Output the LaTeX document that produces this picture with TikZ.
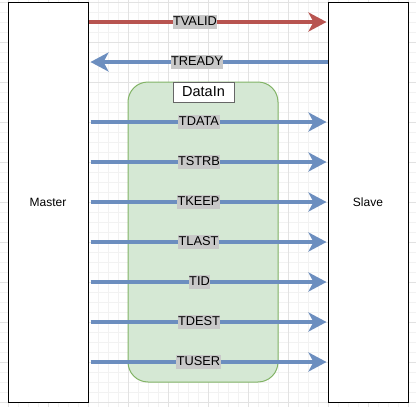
\documentclass[tikz,border=0pt]{standalone}
\usepackage{fontspec}
\setmainfont{Liberation Sans}
\usetikzlibrary{arrows.meta}
\definecolor{gridminor}{RGB}{242,242,242}
\definecolor{gridmajor}{RGB}{226,226,226}
\definecolor{sigred}{RGB}{184,84,80}
\definecolor{sigblue}{RGB}{108,142,191}
\definecolor{grfill}{RGB}{213,232,212}
\definecolor{grline}{RGB}{130,179,102}
\definecolor{lblbg}{RGB}{200,200,200}
\tikzset{
  endbox/.style={draw=black, line width=1pt, fill=white, minimum width=80pt, minimum height=400pt, inner sep=0pt, font=\fontsize{12}{14}\selectfont},
  sig/.style={line width=3.5pt, -{Stealth[length=18pt,width=19pt,inset=5pt]}},
  lbl/.style={fill=lblbg, inner xsep=0.5pt, inner ysep=1pt, font=\fontsize{12.8}{14}\selectfont, text height=9.5pt, text depth=2.5pt},
  groupbox/.style={draw=grline, fill=grfill, line width=1pt, rounded corners=20pt, minimum width=150pt, minimum height=300pt, inner sep=0pt},
  tagbox/.style={draw=black!60, fill=white, line width=1pt, minimum width=61pt, minimum height=20pt, inner sep=0pt, font=\fontsize{14.5}{16}\selectfont}
}
\begin{document}
\begin{tikzpicture}[x=1pt,y=-1pt]
\useasboundingbox (0,0) rectangle (416,407);
\fill[white] (0,0) rectangle (416,407);
% grid
\foreach \x in {-2,8,...,418} \draw[gridminor, line width=1pt] (\x,0) -- (\x,407);
\foreach \y in {2.5,12.5,...,412} \draw[gridminor, line width=1pt] (0,\y) -- (416,\y);
\foreach \x in {8,48,...,418} \draw[gridmajor, line width=1pt] (\x,0) -- (\x,407);
\foreach \y in {2.5,42.5,...,412} \draw[gridmajor, line width=1pt] (0,\y) -- (416,\y);
% group
\node[groupbox] (grp) at (203,232) {};
\node[tagbox] (tag) at (203.5,92) {DataIn};
% end points
\node[endbox] (master) at (48,202) {Master};
\node[endbox] (slave) at (368,202) {Slave};
% signals
\draw[sig, sigred] (master.east |- 0,22) -- ([xshift=-1pt]slave.west |- 0,22);
\draw[sig, sigblue] (slave.west |- 0,62) -- ([xshift=2pt]master.east |- 0,62);
\foreach \yy in {122,162,202,242,282,322,362}
  \draw[sig, sigblue] ([xshift=2pt]master.east |- 0,\yy) -- ([xshift=-1pt]slave.west |- 0,\yy);
% labels
\node[lbl] (lvalid) at (195,21.5) {TVALID};
\node[lbl] (lready) at (197,61.5) {TREADY};
\node[lbl] (ldata) at (199,121.5) {TDATA};
\node[lbl] (lstrb) at (199,161.5) {TSTRB};
\node[lbl] (lkeep) at (198.5,201.5) {TKEEP};
\node[lbl] (llast) at (198.5,241.5) {TLAST};
\node[lbl] (lid) at (199.5,281.5) {TID};
\node[lbl] (ldest) at (199,321.5) {TDEST};
\node[lbl] (luser) at (198.5,361.5) {TUSER};
\end{tikzpicture}
\end{document}
